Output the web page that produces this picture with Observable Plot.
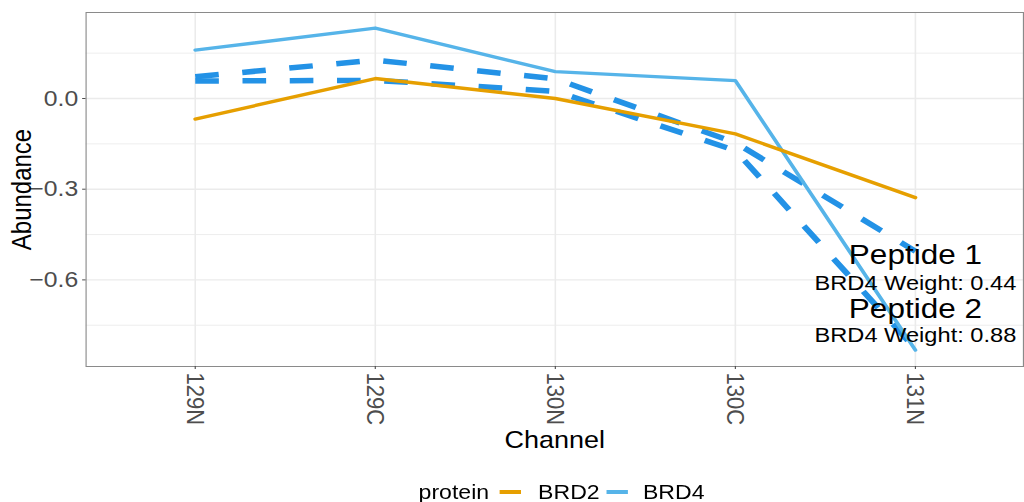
<!DOCTYPE html>
<html>
<head>
<meta charset="utf-8">
<script src="https://cdn.jsdelivr.net/npm/d3@7"></script>
<script src="https://cdn.jsdelivr.net/npm/@observablehq/plot@0.6"></script>
<style>
  html, body { margin: 0; padding: 0; background: #fff; overflow: hidden; }
  #wrap { position: relative; width: 910px; height: 502px; transform: scaleX(1.12527); transform-origin: 0 0; font-family: "Liberation Sans", Arial, sans-serif; }
  #legend { position: absolute; top: 480px; left: 372px; height: 24px; display: flex; align-items: center; font-size: 20.5px; line-height: 24px; color: #000; white-space: nowrap; }
  #legend .sw { display: inline-block; width: 19.5px; height: 4px; }
</style>
</head>
<body>
<div id="wrap">
  <div id="chart"></div>
  <div id="legend"></div>
</div>
<script>
// ---- data ----
const channels = ["129N", "129C", "130N", "130C", "131N"];
const brd2 = [-0.068, 0.066, 0.0, -0.117, -0.328];
const brd4 = [0.160, 0.233, 0.089, 0.059, -0.832];
const peptide1 = [0.072, 0.127, 0.065, -0.146, -0.505];
const peptide2 = [0.058, 0.060, 0.024, -0.172, -0.828];
const proteins = ["BRD2", "BRD4"];
const proteinColors = ["#E69F00", "#56B4E9"];
const peptideNames = ["Peptide 1", "Peptide 2"];
const brd4Weights = [0.44, 0.88];
const peptideLabelY = [-0.519, -0.695];
const weightLabelY = [-0.610, -0.784];
const yMajor = [0, -0.3, -0.6];
const yMinor = [0.15, -0.15, -0.45, -0.75];
const yDomain = [-0.8865, 0.2845];

// ---- tables ----
const toRows = (vals, series) => vals.map((v, i) => ({channel: channels[i], value: v, series}));
const rowsBRD2 = toRows(brd2, "BRD2");
const rowsBRD4 = toRows(brd4, "BRD4");
const rowsPep = [...toRows(peptide1, "Peptide 1"), ...toRows(peptide2, "Peptide 2")];
const pepLabels = peptideNames.map((t, i) => ({channel: channels[channels.length - 1], y: peptideLabelY[i], text: t}));
const weightLabels = brd4Weights.map((w, i) => ({channel: channels[channels.length - 1], y: weightLabelY[i], text: `BRD4 Weight: ${w.toFixed(2)}`}));
const dashColor = "#2392E6";

const chart = Plot.plot({
  width: 910,
  height: 460,
  marginLeft: 76,
  marginRight: 1,
  marginTop: 12,
  marginBottom: 94,
  style: {fontFamily: "'Liberation Sans', Arial, sans-serif", fontSize: "22px", background: "white"},
  x: {type: "point", domain: channels, padding: 0.6, label: null},
  y: {domain: yDomain, label: null},
  marks: [
    Plot.ruleY(yMinor, {stroke: "#ebebeb", strokeWidth: 0.8}),
    Plot.ruleY(yMajor, {stroke: "#ebebeb", strokeWidth: 1.4}),
    Plot.ruleX(channels, {stroke: "#ebebeb", strokeWidth: 1.4}),
    Plot.line(rowsPep, {x: "channel", y: "value", z: "series", stroke: dashColor, strokeWidth: 5.5, strokeDasharray: "21,21", strokeLinecap: "butt", strokeLinejoin: "round"}),
    Plot.line(rowsBRD4, {x: "channel", y: "value", stroke: proteinColors[1], strokeWidth: 3.4}),
    Plot.line(rowsBRD2, {x: "channel", y: "value", stroke: proteinColors[0], strokeWidth: 3.4}),
    Plot.frame({stroke: "#8a8a8a", strokeWidth: 1}),
    Plot.axisX({tickRotate: 90, tickSize: 3, tickPadding: 3, fontSize: 22, color: "#4d4d4d", label: null}),
    Plot.axisY({ticks: yMajor, tickFormat: d3.format(".1f"), tickSize: 3, tickPadding: 4, fontSize: 22, color: "#4d4d4d", label: null}),
    Plot.text(["Abundance"], {frameAnchor: "left", rotate: -90, dx: -57, fontSize: 24, fill: "black", textAnchor: "middle", lineAnchor: "middle"}),
    Plot.text(["Channel"], {frameAnchor: "bottom", dy: 74, fontSize: 24, fill: "black", textAnchor: "middle", lineAnchor: "middle"}),
    Plot.text(pepLabels, {x: "channel", y: "y", text: "text", fontSize: 28, fill: "black", lineAnchor: "middle"}),
    Plot.text(weightLabels, {x: "channel", y: "y", text: "text", fontSize: 21, fill: "black", lineAnchor: "middle"})
  ]
});
document.getElementById("chart").appendChild(chart);

// ---- legend ----
const lg = document.getElementById("legend");
const title = document.createElement("span");
title.textContent = "protein";
title.style.marginRight = "9px";
lg.appendChild(title);
proteins.forEach((p, i) => {
  const sw = document.createElement("span");
  sw.className = "sw";
  sw.style.background = proteinColors[i];
  sw.style.marginLeft = i === 0 ? "0px" : "6px";
  sw.style.marginRight = i === 0 ? "15px" : "13px";
  lg.appendChild(sw);
  const lab = document.createElement("span");
  lab.textContent = p;
  lg.appendChild(lab);
});
</script>
</body>
</html>
